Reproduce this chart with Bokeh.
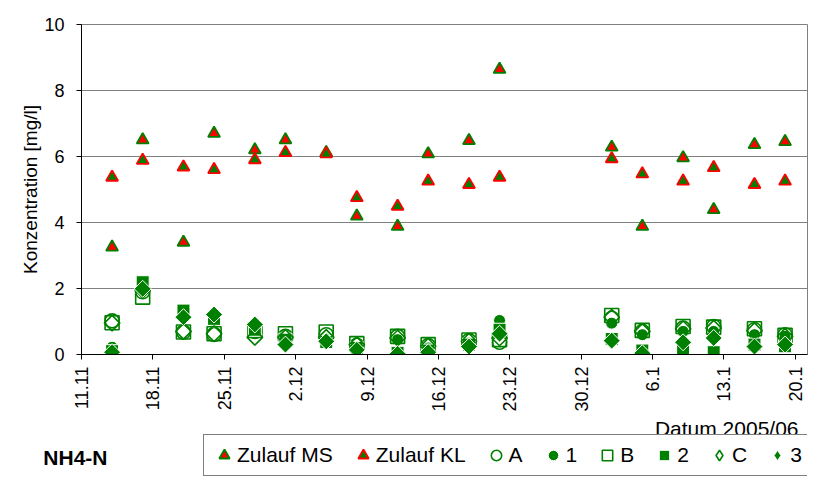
import math
import pandas as pd
from bokeh.plotting import figure
from bokeh.layouts import column
from bokeh.models import (Range1d, FixedTicker, Legend, LegendItem, Label, ColumnDataSource)
from bokeh.embed import file_html
from bokeh.resources import INLINE

# ---------------- data ----------------
start_date = "2005-11-11"
dates = ["2005-11-14", "2005-11-17", "2005-11-21", "2005-11-24", "2005-11-28", "2005-12-01",
         "2005-12-05", "2005-12-08", "2005-12-12", "2005-12-15", "2005-12-19", "2005-12-22",
         "2006-01-02", "2006-01-05", "2006-01-09", "2006-01-12", "2006-01-16", "2006-01-19"]
zulauf_ms = [3.25, 6.5, 3.4, 6.7, 6.2, 6.5, 6.12, 4.19, 3.88, 6.08, 6.48, 8.64, 6.28, 3.88, 5.96, 4.39, 6.36, 6.45]
zulauf_kl = [5.37, 5.88, 5.68, 5.6, 5.9, 6.12, 6.08, 4.75, 4.49, 5.25, 5.15, 5.37, 5.93, 5.47, 5.25, 5.66, 5.15, 5.25]
series_a = [1.02, 1.9, 0.68, 0.61, 0.7, 0.55, 0.6, 0.28, 0.55, 0.27, 0.42, 0.37, 1.1, 0.7, 0.8, 0.85, 0.75, 0.6]
series_1 = [0.22, 2.05, 1.25, 1.0, 0.8, 0.4, 0.45, 0.2, 0.45, 0.2, 0.35, 1.03, 0.95, 0.6, 0.7, 0.7, 0.6, 0.55]
series_b = [0.96, 1.74, 0.68, 0.63, 0.73, 0.63, 0.68, 0.33, 0.55, 0.3, 0.44, 0.45, 1.18, 0.73, 0.85, 0.83, 0.78, 0.58]
series_2 = [0.1, 2.19, 1.33, 1.08, 0.75, 0.45, 0.38, 0.2, 0.05, 0.12, 0.3, 0.75, 0.47, 0.12, 0.12, 0.07, 0.3, 0.25]
series_c = [0.95, 1.95, 0.7, 0.63, 0.52, 0.52, 0.52, 0.3, 0.5, 0.25, 0.4, 0.5, 1.13, 0.7, 0.78, 0.8, 0.72, 0.55]
series_3 = [0.07, 1.99, 1.13, 1.21, 0.91, 0.3, 0.4, 0.14, 0.02, 0.07, 0.24, 0.63, 0.42, 0.04, 0.37, 0.5, 0.24, 0.3]

tick_labels = ["11.11", "18.11", "25.11", "2.12", "9.12", "16.12", "23.12", "30.12", "6.1", "13.1", "20.1"]
y_ticks = [0, 2, 4, 6, 8, 10]
legend_labels = ["Zulauf MS", "Zulauf KL", "A", "1", "B", "2", "C", "3"]
x_title = "Datum 2005/06"
y_title = "Konzentration [mg/l]"
chart_name = "NH4-N"

# days since start
t0 = pd.Timestamp(start_date)
days = [(pd.Timestamp(d) - t0).days for d in dates]
tick_pos = [7 * i for i in range(len(tick_labels))]

src = ColumnDataSource(dict(x=days, ms=zulauf_ms, kl=zulauf_kl, a=series_a, s1=series_1,
                            b=series_b, s2=series_2, c=series_c, s3=series_3))

FONT = "Liberation Sans"
GREEN = "#008000"
RED = "#FF0000"

styles = [
    dict(marker="triangle", size=12, fill_color=RED, line_color=GREEN, line_width=1.8),
    dict(marker="triangle", size=12, fill_color=GREEN, line_color=RED, line_width=1.8),
    dict(marker="circle", size=14, fill_color=None, line_color=GREEN, line_width=1.6),
    dict(marker="circle", size=12, fill_color=GREEN, line_color="white", line_width=1),
    dict(marker="square", size=14, fill_color=None, line_color=GREEN, line_width=1.6),
    dict(marker="square", size=13, fill_color=GREEN, line_color="white", line_width=1),
    dict(marker="square", angle=math.pi / 4, size=11, fill_color=None, line_color=GREEN, line_width=1.6),
    dict(marker="square", angle=math.pi / 4, size=12, fill_color=GREEN, line_color="white", line_width=1),
]
cols = ["ms", "kl", "a", "s1", "b", "s2", "c", "s3"]

legend_styles = [dict(st) for st in styles]
for k in (6, 7):
    legend_styles[k].pop("angle")
    legend_styles[k]["marker"] = "diamond"

# ---------------- main plot ----------------
p = figure(width=814, height=414, output_backend="svg", toolbar_location=None,
           x_range=Range1d(0, 71.2), y_range=Range1d(0, 10),
           min_border_left=81, min_border_right=7, min_border_top=24, min_border_bottom=60)
p.background_fill_color = "white"
p.border_fill_color = "white"
p.outline_line_color = "#808080"
p.outline_line_width = 1

p.xaxis.ticker = FixedTicker(ticks=tick_pos)
p.xaxis.major_label_overrides = {tp: lab for tp, lab in zip(tick_pos, tick_labels)}
p.xaxis.major_label_orientation = math.pi / 2
p.xaxis.major_label_text_font = FONT
p.xaxis.major_label_text_font_size = "18px"
p.xaxis.major_label_text_color = "black"
p.xaxis.major_label_standoff = 7
p.xaxis.minor_tick_line_color = None
p.xaxis.major_tick_in = 0
p.xaxis.major_tick_out = 5
p.xaxis.axis_line_color = "black"
p.xaxis.major_tick_line_color = "black"

p.yaxis.ticker = FixedTicker(ticks=y_ticks)
p.yaxis.major_label_text_font = FONT
p.yaxis.major_label_text_font_size = "18px"
p.yaxis.major_label_text_color = "black"
p.yaxis.major_label_standoff = 12
p.yaxis.minor_tick_line_color = None
p.yaxis.major_tick_in = 0
p.yaxis.major_tick_out = 5
p.yaxis.axis_line_color = "black"
p.yaxis.major_tick_line_color = "black"
p.yaxis.axis_label = y_title
p.yaxis.axis_label_text_font = FONT
p.yaxis.axis_label_text_font_size = "19px"
p.yaxis.axis_label_text_font_style = "normal"
p.yaxis.axis_label_text_color = "black"
p.yaxis.axis_label_standoff = 0

p.xgrid.grid_line_color = None
p.ygrid.grid_line_color = "#808080"
p.ygrid.grid_line_width = 1

for col, st in zip(cols, styles):
    p.scatter("x", col, source=src, **st)

# ---------------- bottom strip: axis title, chart name, legend ----------------
# coordinates in this strip are page pixels (its frame is aligned to the main frame)
p2 = figure(width=814, height=63, output_backend="svg", toolbar_location=None,
            x_range=Range1d(81, 807), y_range=Range1d(477, 414),
            x_axis_location=None, y_axis_location="left",
            min_border=0, min_border_top=0, min_border_bottom=0,
            min_border_left=0, min_border_right=0)
try:
    p2.title = None
except Exception:
    p2.title.visible = False
    p2.title.standoff = 0
p2.outline_line_color = None
p2.background_fill_color = "white"
p2.border_fill_color = "white"
p2.grid.grid_line_color = None

# chart name as the single tick label of the otherwise invisible left axis
p2.yaxis.ticker = FixedTicker(ticks=[457])
p2.yaxis.major_label_overrides = {457: chart_name}
p2.yaxis.major_label_text_font = FONT
p2.yaxis.major_label_text_font_size = "21px"
p2.yaxis.major_label_text_font_style = "bold"
p2.yaxis.major_label_text_color = "black"
p2.yaxis.major_label_standoff = -26
p2.yaxis.axis_line_color = None
p2.yaxis.major_tick_line_color = None
p2.yaxis.minor_tick_line_color = None
p2.yaxis.major_tick_in = 0
p2.yaxis.major_tick_out = 0

items = []
for lab, st in zip(legend_labels, legend_styles):
    r = p2.scatter(x=[-1000], y=[-1000], **st)
    items.append(LegendItem(label=lab, renderers=[r]))

legend = Legend(items=items, orientation="horizontal", location=(122, 1),
                glyph_width=26, glyph_height=26, padding=7, spacing=17,
                label_standoff=0, label_width=10, margin=0,
                label_text_font=FONT, label_text_font_size="21px", label_text_color="black",
                border_line_color="black", border_line_width=1,
                background_fill_color="white", background_fill_alpha=1)
p2.add_layout(legend)

p2.add_layout(Label(x=798, y=428, text=x_title, text_align="right",
                    text_baseline="alphabetic", text_font=FONT, text_font_size="21px",
                    text_color="black"))

layout = column(p, p2, spacing=0)

open("out.html", "w").write(file_html(layout, INLINE))
